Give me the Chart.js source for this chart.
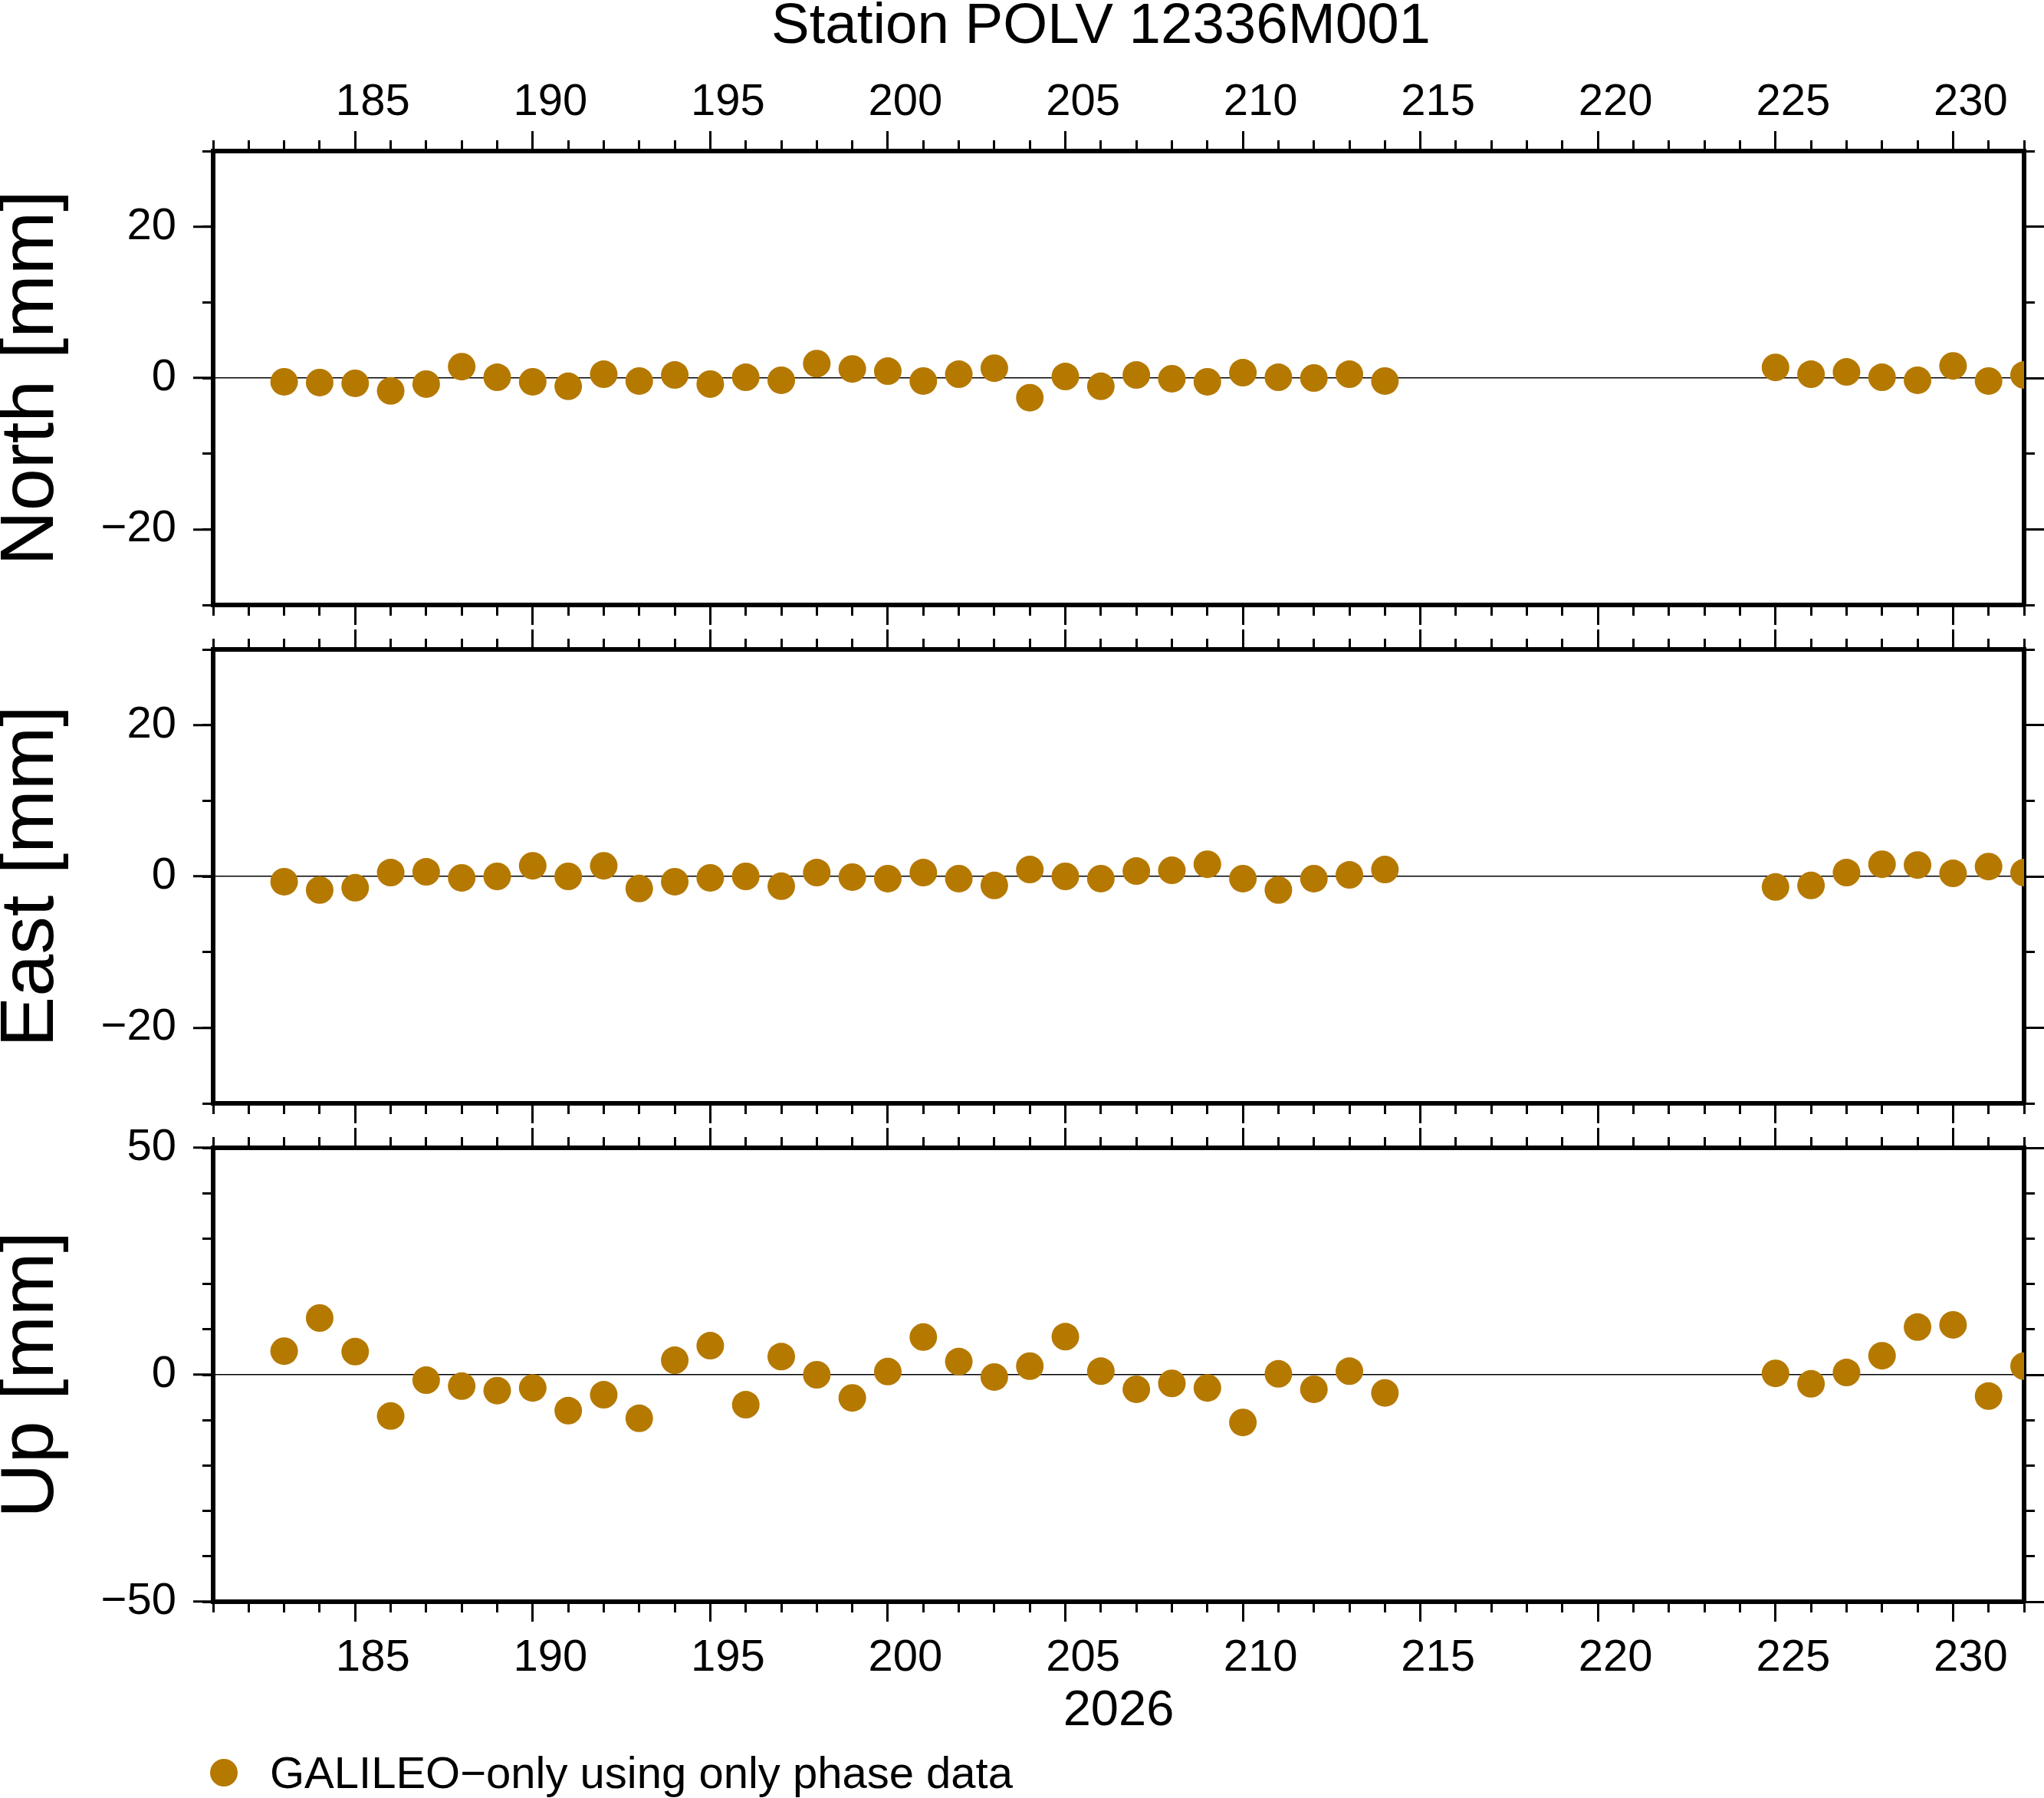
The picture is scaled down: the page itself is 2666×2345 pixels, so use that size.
<!DOCTYPE html>
<html>
<head>
<meta charset="utf-8">
<title>Station POLV 12336M001</title>
<script src="https://cdn.jsdelivr.net/npm/chart.js@4.4.1/dist/chart.umd.min.js"></script>
<style>
    html, body { margin: 0; padding: 0; background: #fff; }
    #page { position: relative; width: 2666px; height: 2345px; overflow: hidden;
            font-family: "Liberation Sans", Arial, sans-serif; color: #000; }
    #page canvas { position: absolute; left: 0; top: 0; }
    .txt { position: absolute; white-space: nowrap; }
    #title { left: 1436px; top: -6px; transform: translateX(-50%); font-size: 74.5px; line-height: 74px; }
    #xtitle { left: 1459px; top: 2195px; transform: translateX(-50%); font-size: 65px; line-height: 65px; }
    #legend { left: 352px; top: 2283px; font-size: 58px; line-height: 58px; }
    #legendDot { position: absolute; left: 274px; top: 2294px; width: 36px; height: 36px;
                 border-radius: 50%; background: #b57900; }
</style>
</head>
<body>
<div id="page">
    <canvas id="cNorth" width="2666" height="2345"></canvas>
    <canvas id="cEast" width="2666" height="2345"></canvas>
    <canvas id="cUp" width="2666" height="2345"></canvas>
    <div class="txt" id="title">Station POLV 12336M001</div>
    <div class="txt" id="xtitle">2026</div>
    <div id="legendDot"></div>
    <div class="txt" id="legend">GALILEO&minus;only using only phase data</div>
</div>

<script>
// Daily GNSS coordinate residuals, day of year 2026

var days = [183, 184, 185, 186, 187, 188, 189, 190, 191, 192, 193, 194, 195, 196, 197, 198,
            199, 200, 201, 202, 203, 204, 205, 206, 207, 208, 209, 210, 211, 212, 213, 214,
            225, 226, 227, 228, 229, 230, 231, 232];

var northMm = [-0.5, -0.6, -0.7, -1.7, -0.8, 1.5, 0.1, -0.5, -1.1, 0.5, -0.4, 0.4, -0.8, 0.1, -0.3, 1.9,
               1.2, 0.9, -0.4, 0.5, 1.3, -2.6, 0.2, -1.1, 0.4, -0.1, -0.5, 0.7, 0.1, 0.0, 0.5, -0.4,
               1.4, 0.5, 0.8, 0.1, -0.3, 1.6, -0.4, 0.4];

var eastMm = [-0.7, -1.8, -1.5, 0.5, 0.6, -0.2, 0.0, 1.4, 0.0, 1.4, -1.6, -0.7, -0.2, 0.0, -1.3, 0.5,
              -0.1, -0.3, 0.5, -0.3, -1.2, 0.9, 0.0, -0.3, 0.7, 0.8, 1.6, -0.3, -1.8, -0.3, 0.2, 0.9,
              -1.4, -1.2, 0.5, 1.6, 1.5, 0.4, 1.3, 0.5];

var upMm = [5.2, 12.5, 5.1, -9.1, -1.2, -2.5, -3.5, -2.9, -7.9, -4.4, -9.6, 3.2, 6.4, -6.6, 4.0, 0.0,
            -5.1, 0.7, 8.3, 2.9, -0.5, 1.9, 8.4, 0.8, -3.2, -1.9, -2.9, -10.5, 0.2, -3.2, 0.8, -4.0,
            0.3, -2.0, 0.5, 4.2, 10.5, 11.0, -4.7, 1.9];

var xMin = 181, xMax = 232;
var xMajorTicks = [185, 190, 195, 200, 205, 210, 215, 220, 225, 230];
var neTicks = [-20, 0, 20];
var neMinorTicks = [-30, -20, -10, 0, 10, 20, 30];
var upTicks = [-50, 0, 50];
var upMinorTicks = [-50, -40, -30, -20, -10, 0, 10, 20, 30, 40, 50];

var FONT = '"Liberation Sans", Arial, sans-serif';
var DOT_COLOR = '#b57900';
var PAGE_W = 2666, PAGE_H = 2345;
var PLOT_LEFT = 278, PLOT_RIGHT = 2640;

var xMinorTicks = [];
for (var d = xMin; d <= xMax; d++) xMinorTicks.push(d);

function setTicks(list) {
    return function (scale) {
        scale.ticks = list.map(function (v) { return { value: v }; });
    };
}

function fixSize(size) {
    return function (scale) {
        if (scale.isHorizontal()) scale.height = size;
        else scale.width = size;
    };
}

function minusLabel(v) {
    return v < 0 ? '\u2212' + Math.abs(v) : String(v);
}

// x axes: a minor one (daily ticks) sitting on the frame, a major one (5 days) outside it
function xAxis(pos, major, showLabels, size) {
    return {
        type: 'linear', axis: 'x', position: pos, min: xMin, max: xMax,
        weight: major ? 1 : 0,
        afterBuildTicks: setTicks(major ? xMajorTicks : xMinorTicks),
        ticks: {
            display: major && showLabels,
            autoSkip: false, maxRotation: 0,
            labelOffset: 23,
            padding: pos === 'top' ? 2 : 13,
            color: '#000',
            font: { family: FONT, size: 58, lineHeight: 1.2 }
        },
        grid: {
            drawOnChartArea: false, drawTicks: true,
            tickLength: major ? 26 : 14, tickWidth: 3, tickColor: '#000'
        },
        border: { display: major, width: 6, color: '#000' },
        afterFit: fixSize(major ? size : 0)
    };
}

function yAxis(pos, major, p, size) {
    var isLeft = pos === 'left';
    var ax = {
        type: 'linear', axis: 'y', position: pos, min: p.yMin, max: p.yMax,
        weight: major ? 1 : 0,
        afterBuildTicks: setTicks(major ? p.majorTicks : p.minorTicks),
        ticks: {
            display: major && isLeft,
            autoSkip: false,
            padding: 22,
            color: '#000',
            font: { family: FONT, size: 58, lineHeight: 1.2 },
            callback: minusLabel
        },
        grid: {
            drawOnChartArea: false, drawTicks: true,
            tickLength: major ? 26 : 14, tickWidth: 3, tickColor: '#000'
        },
        border: { display: major, width: 6, color: '#000' },
        afterFit: fixSize(major ? size : 0)
    };
    if (major && isLeft) {
        // zero line across the panel
        ax.grid.drawOnChartArea = true;
        ax.grid.lineWidth = 1.5;
        ax.grid.color = function (c) {
            return c.tick && c.tick.value === 0 ? '#000' : 'rgba(0,0,0,0)';
        };
        ax.title = {
            display: true, text: p.title, color: '#000', padding: 0,
            font: { family: FONT, size: 99, lineHeight: 0.84 }
        };
    }
    return ax;
}

var panels = [
    { canvas: 'cNorth', title: 'North [mm]', values: northMm, top: 197, bottom: 789,
      yMin: -30, yMax: 30, majorTicks: neTicks, minorTicks: neMinorTicks, topLabels: true, bottomLabels: false },
    { canvas: 'cEast', title: 'East [mm]', values: eastMm, top: 847, bottom: 1439,
      yMin: -30, yMax: 30, majorTicks: neTicks, minorTicks: neMinorTicks, topLabels: false, bottomLabels: false },
    { canvas: 'cUp', title: 'Up [mm]', values: upMm, top: 1497, bottom: 2089,
      yMin: -50, yMax: 50, majorTicks: upTicks, minorTicks: upMinorTicks, topLabels: false, bottomLabels: true }
];

function createPanel(p) {
    var ctx = document.getElementById(p.canvas);
    var points = days.map(function (d, i) { return { x: d, y: p.values[i] }; });

    new Chart(ctx.getContext('2d'), {
        type: 'scatter',
        data: {
            datasets: [{
                label: 'GALILEO-only using only phase data',
                data: points,
                xAxisID: 'xb1',
                yAxisID: 'yl1',
                pointRadius: 18,
                pointHoverRadius: 18,
                backgroundColor: DOT_COLOR,
                borderWidth: 0
            }]
        },
        options: {
            responsive: false,
            animation: false,
            devicePixelRatio: 1,
            layout: { padding: 0 },
            events: [],
            plugins: {
                legend: { display: false },
                tooltip: { enabled: false }
            },
            scales: {
                xt0: xAxis('top', false, false, 0),
                xt1: xAxis('top', true, p.topLabels, p.top),
                xb0: xAxis('bottom', false, false, 0),
                xb1: xAxis('bottom', true, p.bottomLabels, PAGE_H - p.bottom),
                yl0: yAxis('left', false, p, 0),
                yl1: yAxis('left', true, p, PLOT_LEFT),
                yr0: yAxis('right', false, p, 0),
                yr1: yAxis('right', true, p, PAGE_W - PLOT_RIGHT)
            }
        }
    });
}

panels.forEach(createPanel);
</script>
</body>
</html>
